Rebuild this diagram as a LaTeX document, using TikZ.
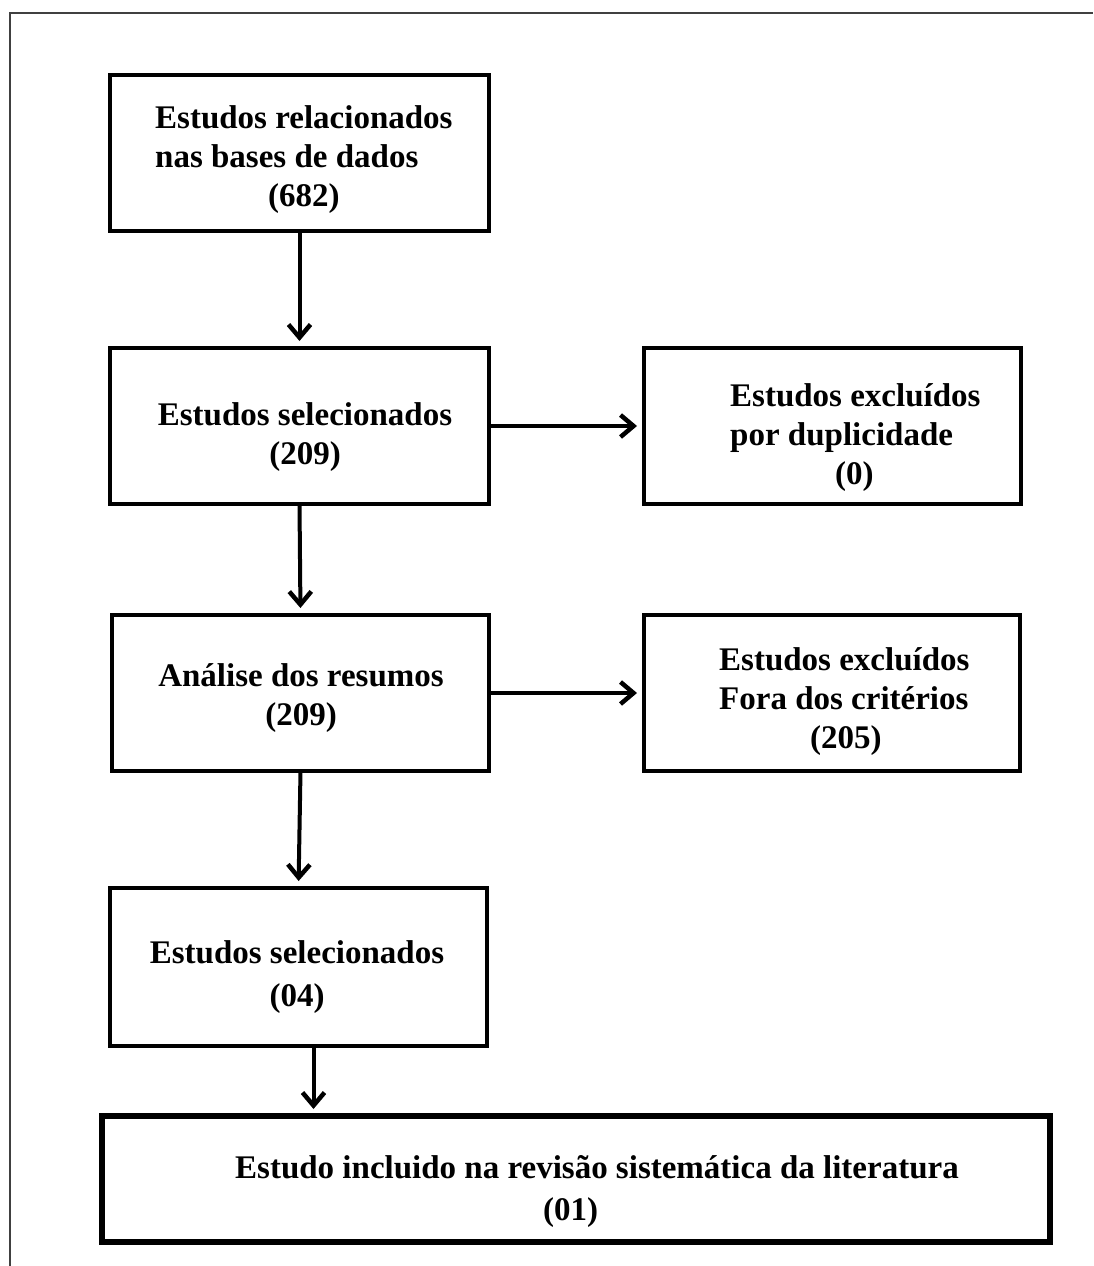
\documentclass[tikz,border=0pt]{standalone}
\usepackage{fontspec}
\setmainfont{Liberation Serif}
\usetikzlibrary{arrows.meta}
\begin{document}
\begin{tikzpicture}[x=1pt,y=-1pt,
  box/.style={draw=black, line width=4pt, rectangle, outer sep=0pt, inner sep=0pt},
  bigbox/.style={box, line width=6pt},
  txt/.style={font=\fontsize{33}{39}\selectfont\bfseries, inner sep=0pt},
  conn/.style={line width=4pt, -{Straight Barb[length=13pt,width=22pt,line width=4.5pt]}, shorten >=7pt},
  frame/.style={line width=1.6pt, draw=black!75}
]
\useasboundingbox (0,0) rectangle (1093,1266);
\coordinate (fa) at (10,1266);
\coordinate (fb) at (10,13);
\coordinate (fc) at (1093,13);
\draw[frame] (fa) -- (fb) -- (fc);

\node[box, minimum width=379pt, minimum height=156pt] (b1) at (299.5,153) {};
\node[box, minimum width=379pt, minimum height=156pt] (b2) at (299.5,426) {};
\node[box, minimum width=377pt, minimum height=156pt] (b3) at (832.5,426) {};
\node[box, minimum width=377pt, minimum height=156pt] (b4) at (300.5,693) {};
\node[box, minimum width=376pt, minimum height=156pt] (b5) at (832,693) {};
\node[box, minimum width=377pt, minimum height=158pt] (b6) at (298.5,967) {};
\node[bigbox, minimum width=948pt, minimum height=126pt] (b7) at (576,1179) {};

\node[txt, align=left, anchor=north west] (t1) at (155,105) {Estudos relacionados\\nas bases de dados\\\hspace*{113pt}(682)};
\node[txt, align=center, anchor=north] (t2) at (305,402.5) {Estudos selecionados\\(209)};
\node[txt, align=left, anchor=north west] (t3) at (730,383.5) {Estudos excluídos\\por duplicidade\\\hspace*{105pt}(0)};
\node[txt, align=center, anchor=north] (t4) at (301,663.5) {Análise dos resumos\\(209)};
\node[txt, align=left, anchor=north west] (t5) at (719,647.5) {Estudos excluídos\\Fora dos critérios\\\hspace*{91pt}(205)};
\node[txt, align=center, anchor=north, font=\fontsize{33}{43}\selectfont\bfseries] (t6) at (297,940.5) {Estudos selecionados\\(04)};
\node[txt, align=left, anchor=north west, font=\fontsize{33}{42}\selectfont\bfseries] (t7) at (235,1155.5) {Estudo incluido na revisão sistemática da literatura\\\hspace*{308pt}(01)};

\draw[conn] (b1.south) -- (b2.north);
\draw[conn] (b2.east) -- (b3.west);
\draw[conn] (b2.south) -- (b4.north);
\draw[conn] (b4.east) -- (b5.west);
\draw[conn] (b4.south) -- (b6.north);
\draw[conn] ([xshift=15pt]b6.south) -- ([xshift=15pt]b6.south |- b7.north);
\end{tikzpicture}
\end{document}
